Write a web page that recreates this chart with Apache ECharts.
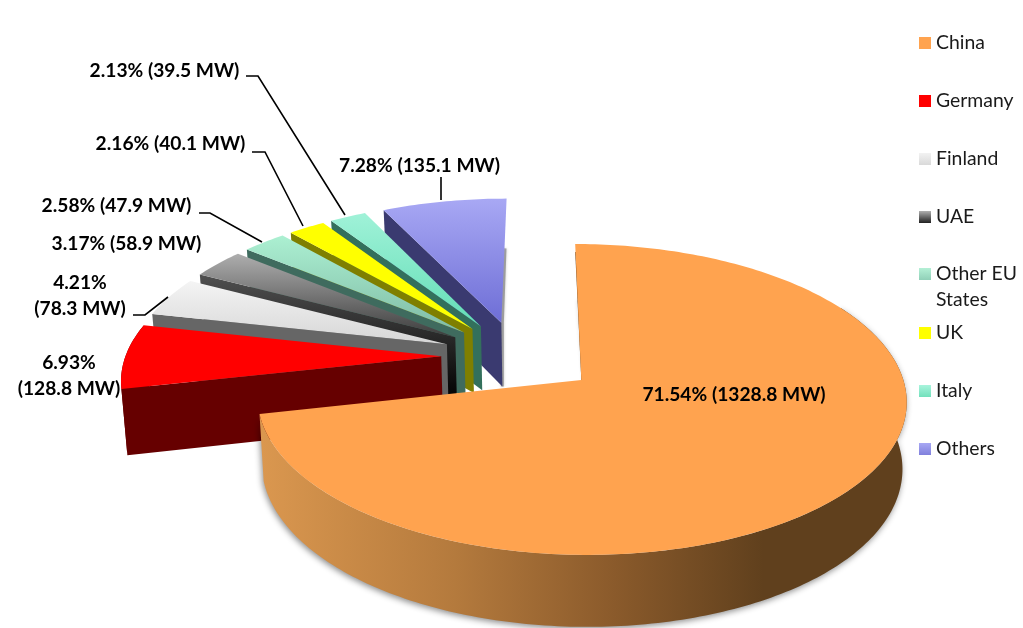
<!DOCTYPE html>
<html><head><meta charset="utf-8">
<style>html,body{margin:0;padding:0;background:#fff}#c{width:1023px;height:628px}</style>
<script src="https://cdn.jsdelivr.net/npm/echarts@6/dist/echarts.min.js"></script>
</head><body><div id="c"></div>
<script>
const categories = ['China','Germany','Finland','UAE','Other EU States','UK','Italy','Others'];
const sharePct = [71.54,6.93,4.21,3.17,2.58,2.16,2.13,7.28];
const powerMW = [1328.8,128.8,78.3,58.9,47.9,40.1,39.5,135.1];

// view of the tilted pie
const VIEW = {x0:580,y0:380,rx:322,ry:153,k:0.125,h:66,hv:0.09,nadir:0.013,u0:-0.183,v0:-0.15,explode:0.24,
  restExplode:0.24,restU:-0.015,restV:-0.008,chinaShear:6,restShear:3};
const FONT = 'Lato, "Open Sans", sans-serif';
const LABEL_FONT = 'bold 19.2px '+FONT;
const grad = (a,b)=>({type:'linear',x:0,y:0,x2:0,y2:1,colorStops:[{offset:0,color:a},{offset:1,color:b}]});
const chinaWall = {type:'linear',global:true,x:262,y:0,x2:905,y2:0,colorStops:[
  {offset:0,color:'#DA974F'},{offset:0.3,color:'#B47A3D'},{offset:0.55,color:'#8A5A2B'},{offset:0.78,color:'#60401D'},{offset:1,color:'#60401D'}]};
const faceFill = ['#FFA34F','#FF0000',grad('#F4F4F4','#D6D6D6'),grad('#AEAEAE','#3C3C3C'),grad('#ACF0D2','#7FBBA5'),'#FFFF00',grad('#A0F2D8','#62DDB6'),grad('#A8A8F4','#6E6ED6')];
const cutFill = ['#6B451F','#660000','#666666',grad('#505050','#000000'),'#3F6B5E','#7F7F00','#33705C','#3A3A70'];
const swatchFill = ['#FFA34F','#FF0000',grad('#F2F2F2','#D9D9D9'),grad('#B0B0B0','#202020'),grad('#B4F0D6','#90D0B8'),'#FFFF00',grad('#A8F4DC','#72E0BC'),grad('#A8A8F4','#8080DC')];
// text anchor (centre), and leader line per slice
const labelPlace = [
 {x:734,y:395,lines:1},
 {x:69,y:375.5,lines:2},
 {x:80,y:296,lines:2},
 {x:126.5,y:244,lines:1},
 {x:116.5,y:206,lines:1},
 {x:170.5,y:144,lines:1},
 {x:164.5,y:71,lines:1},
 {x:419.5,y:166,lines:1}];
const leaders = [null,null,
 [[133,315],[145,315],[168,297]],
 null,
 [[199,213],[210,213],[262,242]],
 [[252,152],[265,152],[303,226]],
 [[246,76],[258,76],[345,215]],
 [[441,177],[441,200]]];

const cum = sharePct.map((_,i)=>sharePct.slice(0,i).reduce((a,b)=>a+b,0));
const rad = d=>d*Math.PI/180;
function pt(i,a,r,z){
  const s=rad(cum[i]*3.6), e=rad((cum[i]+sharePct[i])*3.6), m=(s+e)/2, V=VIEW, rest=i>0;
  const ex=rest?V.restExplode:V.explode;
  const u=V.u0+(rest?V.restU:0)+ex*Math.sin(m)+r*Math.sin(a);
  const v=V.v0+(rest?V.restV:0)-ex*Math.cos(m)-r*Math.cos(a);
  const w=1/(1-V.k*v);
  let x=V.x0+V.rx*u*w+(rest?V.restShear:V.chinaShear)*v, y=V.y0+V.ry*v*w;
  if(z){ x+=(V.x0-x)*V.nadir; y+=V.h*(1+V.hv*v); }
  return [x,y];
}
function arc(i,z,from,to){
  const n=Math.max(2,Math.ceil(Math.abs(to-from)/rad(1))),o=[];
  for(let j=0;j<=n;j++) o.push(pt(i,from+(to-from)*j/n,1,z));
  return o;
}
function labelText(i){
  const p=sharePct[i].toFixed(2)+'%', m='('+powerMW[i].toFixed(1)+' MW)';
  return p+(labelPlace[i].lines===2?'\n':' ')+m;
}
function renderSlice(i){
  return function(){
    const s=rad(cum[i]*3.6), e=rad((cum[i]+sharePct[i])*3.6), kids=[];
    const tipT=pt(i,s,0,0), tipB=pt(i,s,0,1);
    const sT=pt(i,s,1,0), sB=pt(i,s,1,1), eT=pt(i,e,1,0), eB=pt(i,e,1,1);
    if(i===0){
      const from=Math.max(s,rad(60));
      kids.push({type:'polyline',shape:{points:[[sT[0]+4,sT[1]+56],[tipT[0]+4,tipT[1]]]},style:{stroke:'rgba(120,120,120,0.55)',lineWidth:3,fill:null,shadowBlur:4,shadowColor:'rgba(0,0,0,0.35)'}});
      kids.push({type:'polyline',shape:{points:[[sT[0]+1.5,sT[1]+8],[tipT[0]+1.5,tipT[1]]]},style:{stroke:'#6B451F',lineWidth:3,fill:null}});
      kids.push({type:'polygon',shape:{points:arc(i,0,from,e).concat(arc(i,1,from,e).reverse())},
        style:{fill:chinaWall,shadowBlur:6,shadowColor:'rgba(0,0,0,0.45)',shadowOffsetX:-1,shadowOffsetY:2}});
    } else {
      if(i===7){
        const y1=eB[1]-8, t=(y1-eT[1])/(tipT[1]-eT[1]), x1=eT[0]+(tipT[0]-eT[0])*t;
        kids.push({type:'polyline',shape:{points:[[x1+0.5,y1],[tipT[0]+1,tipT[1]],[tipT[0]+1,tipB[1]]]},style:{stroke:'rgba(130,130,130,0.7)',lineWidth:3,fill:null,shadowBlur:3,shadowColor:'rgba(0,0,0,0.3)'}});
      }
      if(i===1) kids.push({type:'polygon',shape:{points:arc(i,0,s,e).concat(arc(i,1,s,e).reverse())},style:{fill:cutFill[i]}});
      kids.push({type:'polygon',shape:{points:[sT,tipT,tipB,sB]},style:{fill:cutFill[i]}});
    }
    kids.push({type:'polygon',shape:{points:[tipT].concat(arc(i,0,s,e))},style:{fill:faceFill[i]}});
    if(leaders[i]) kids.push({type:'polyline',shape:{points:leaders[i]},style:{stroke:'#000',lineWidth:1.6,fill:null}});
    const lp=labelPlace[i];
    kids.push({type:'text',style:{text:labelText(i),x:lp.x,y:lp.y,font:LABEL_FONT,lineHeight:26,fill:'#000',align:'center',verticalAlign:'middle'}});
    return {type:'group',children:kids};
  };
}
const drawOrder=[7,6,5,4,3,2,1,0];
const series=drawOrder.map((i,n)=>({
  type:'custom',name:categories[i],coordinateSystem:'none',z:2+n,silent:true,animation:false,
  itemStyle:{color:typeof swatchFill[i]==='string'?swatchFill[i]:'#888'},
  data:[[sharePct[i]]],renderItem:renderSlice(i)
}));
const legendBase={orient:'vertical',left:919,itemWidth:12,itemHeight:12,itemGap:34,icon:'rect',selectedMode:false,padding:0,
  textStyle:{fontFamily:'Lato, "Open Sans", sans-serif',fontSize:19.4,color:'#1a1a1a',lineHeight:24}};
const item=i=>({name:categories[i],itemStyle:{color:swatchFill[i],borderWidth:0}});
const option={
  backgroundColor:'#fff',animation:false,
  legend:[
    Object.assign({},legendBase,{top:31,data:[0,1,2,3].map(item)}),
    Object.assign({},legendBase,{top:235,data:[item(4)],formatter:()=>'\nOther EU\nStates',
      textStyle:Object.assign({},legendBase.textStyle,{lineHeight:26})}),
    Object.assign({},legendBase,{top:321,data:[5,6,7].map(item)})
  ],
  series
};
echarts.init(document.getElementById('c'),null,{renderer:'canvas'}).setOption(option);
</script></body></html>
